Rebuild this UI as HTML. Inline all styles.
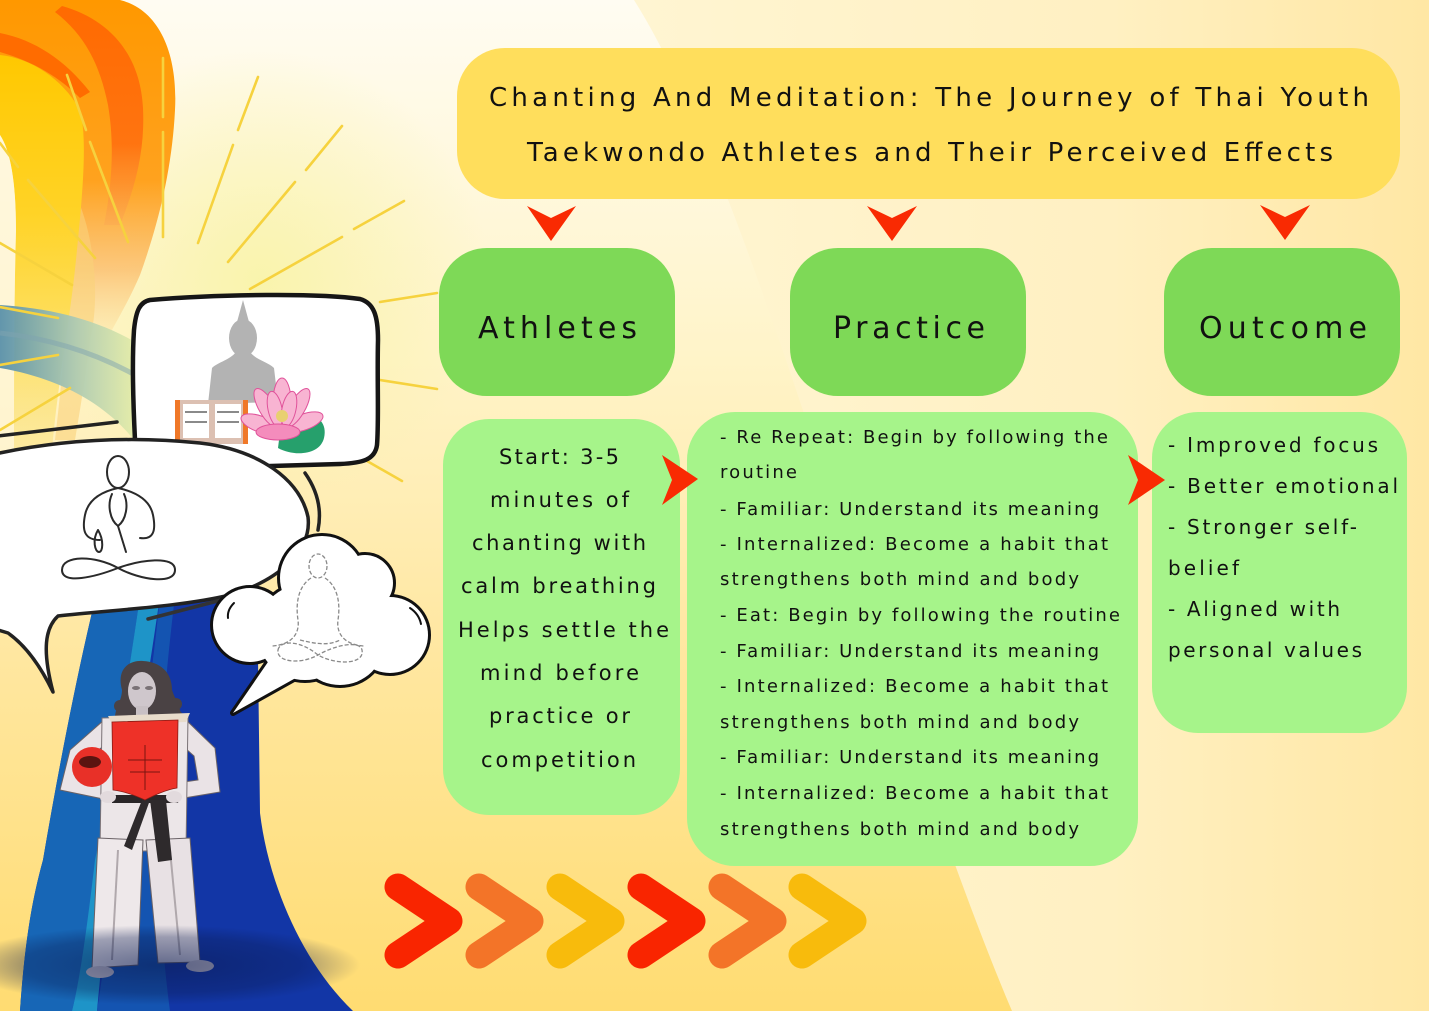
<!DOCTYPE html>
<html>
<head>
<meta charset="utf-8">
<style>
html,body{margin:0;padding:0;width:1429px;height:1011px;overflow:hidden;background:#FFF3C8;}
svg{display:block;}
.t{font-family:"DejaVu Sans","Liberation Sans",sans-serif;fill:#111;}
</style>
</head>
<body>
<svg width="1429" height="1011" viewBox="0 0 1429 1011" xmlns="http://www.w3.org/2000/svg">
<defs>
  <linearGradient id="bgv" x1="0" y1="0" x2="0" y2="1">
    <stop offset="0" stop-color="#FFFCF2"/>
    <stop offset="0.35" stop-color="#FFF4C9"/>
    <stop offset="0.62" stop-color="#FFE8A4"/>
    <stop offset="1" stop-color="#FFDC72"/>
  </linearGradient>
  <radialGradient id="sun" cx="260" cy="280" r="230" gradientUnits="userSpaceOnUse">
    <stop offset="0" stop-color="#F8F3A6" stop-opacity="0.85"/>
    <stop offset="1" stop-color="#F8F3A6" stop-opacity="0"/>
  </radialGradient>
  <linearGradient id="rightbg" x1="634" y1="0" x2="1429" y2="0" gradientUnits="userSpaceOnUse">
    <stop offset="0" stop-color="#FFF5D2"/>
    <stop offset="0.6" stop-color="#FFF0C2"/>
    <stop offset="1" stop-color="#FFE7A4"/>
  </linearGradient>
  <linearGradient id="flameO" x1="0" y1="0" x2="0" y2="360" gradientUnits="userSpaceOnUse">
    <stop offset="0" stop-color="#FF9800"/>
    <stop offset="0.5" stop-color="#FFA21E"/>
    <stop offset="0.75" stop-color="#FBC070" stop-opacity="0.85"/>
    <stop offset="1" stop-color="#FCDC96" stop-opacity="0"/>
  </linearGradient>
  <linearGradient id="flameD" x1="0" y1="0" x2="0" y2="240" gradientUnits="userSpaceOnUse">
    <stop offset="0" stop-color="#FF6A00"/>
    <stop offset="0.6" stop-color="#FF7410"/>
    <stop offset="1" stop-color="#F9A860" stop-opacity="0.2"/>
  </linearGradient>
  <linearGradient id="flameY" x1="0" y1="55" x2="0" y2="450" gradientUnits="userSpaceOnUse">
    <stop offset="0" stop-color="#FFC800"/>
    <stop offset="0.4" stop-color="#FFD326"/>
    <stop offset="0.75" stop-color="#FDE16A"/>
    <stop offset="1" stop-color="#FBE48A" stop-opacity="0.6"/>
  </linearGradient>
  <linearGradient id="teal" x1="0" y1="0" x2="140" y2="0" gradientUnits="userSpaceOnUse">
    <stop offset="0" stop-color="#5A91AA"/>
    <stop offset="0.55" stop-color="#AFCBB2"/>
    <stop offset="1" stop-color="#E8EFA8"/>
  </linearGradient>
  <radialGradient id="shadow" cx="160" cy="965" r="200" gradientUnits="userSpaceOnUse" gradientTransform="translate(0,965) scale(1,0.2) translate(0,-965)">
    <stop offset="0" stop-color="#0A1A50" stop-opacity="0.6"/>
    <stop offset="0.7" stop-color="#0A1A50" stop-opacity="0.35"/>
    <stop offset="1" stop-color="#0A1A50" stop-opacity="0"/>
  </radialGradient>
</defs>

<!-- Background -->
<rect x="0" y="0" width="1429" height="1011" fill="url(#bgv)"/>
<rect x="0" y="0" width="700" height="700" fill="url(#sun)"/>
<path d="M634,0 C760,200 880,700 1012,1011 L1429,1011 L1429,0 Z" fill="url(#rightbg)"/>

<!-- Flames -->
<path d="M0,0 L120,0 C160,10 178,55 175,110 C172,170 158,225 140,275 C125,310 110,330 100,355 L60,355 C62,260 55,170 25,120 C15,100 5,85 0,78 Z" fill="url(#flameO)"/>
<path d="M62,6 C105,18 140,50 143,108 C145,150 136,185 120,225 L104,225 C113,180 114,140 108,105 C100,65 85,35 55,12 Z" fill="url(#flameD)"/>
<path d="M0,33 C35,40 65,60 90,92 L80,98 C60,78 35,62 0,52 Z" fill="#FF6C00"/>
<path d="M78,200 C95,240 100,300 90,340 C85,380 80,410 75,440 L55,440 C62,380 70,300 66,240 Z" fill="#FAD27A" opacity="0.6"/>
<path d="M0,55 C30,58 62,78 80,110 C88,140 82,200 76,260 C70,320 58,380 52,450 L14,450 C14,380 14,300 16,230 C16,180 10,150 0,135 Z" fill="url(#flameY)"/>
<path d="M0,135 C10,150 16,180 16,230 C14,300 14,380 14,450 L0,450 Z" fill="#FFF7DA" opacity="0.6"/>

<!-- Teal swoosh -->
<path d="M0,305 C50,308 100,320 140,345 L140,448 C115,412 70,380 0,368 Z" fill="url(#teal)" opacity="0.95"/>
<path d="M0,333 C45,338 90,350 135,375" stroke="#7FA3B0" stroke-width="5" fill="none" opacity="0.5"/>

<!-- Rays -->
<g stroke="#F6D23E" stroke-width="2.6" stroke-linecap="round">
  <line x1="258" y1="77" x2="238" y2="130"/>
  <line x1="233" y1="145" x2="198" y2="243"/>
  <line x1="342" y1="126" x2="306" y2="170"/>
  <line x1="295" y1="182" x2="228" y2="262"/>
  <line x1="404" y1="201" x2="354" y2="229"/>
  <line x1="342" y1="237" x2="250" y2="289"/>
  <line x1="437" y1="293" x2="380" y2="302"/>
  <line x1="437" y1="389" x2="380" y2="380"/>
  <line x1="402" y1="481" x2="367" y2="461"/>
  <line x1="163" y1="58" x2="163" y2="117"/>
  <line x1="163" y1="132" x2="163" y2="237"/>
  <line x1="67" y1="75" x2="86" y2="130"/>
  <line x1="90" y1="142" x2="128" y2="242"/>
  <line x1="28" y1="180" x2="95" y2="258"/>
  <line x1="0" y1="243" x2="72" y2="285"/>
  <line x1="0" y1="143" x2="18" y2="167"/>
  <line x1="0" y1="307" x2="58" y2="318"/>
  <line x1="0" y1="365" x2="58" y2="355"/>
  <line x1="0" y1="430" x2="70" y2="388"/>
  <line x1="158" y1="598" x2="158" y2="620"/>
</g>

<!-- Blue band -->
<path d="M97,592 L257,580 L260,813 C268,880 300,960 353,1011 L20,1011 C25,940 32,900 43,860 C60,760 80,660 97,592 Z" fill="#1236A6"/>
<path d="M97,592 L140,596 C125,700 108,820 97,860 C90,920 80,980 72,1011 L20,1011 C25,940 32,900 43,860 C60,760 80,660 97,592 Z" fill="#1766B6"/>
<path d="M140,596 L160,596 C145,700 125,820 115,860 C105,920 100,980 97,1011 L72,1011 C80,980 88,920 95,860 C108,800 125,700 140,596 Z" fill="#1E94C8"/>
<path d="M160,596 L175,596 C160,720 150,860 170,1011 L97,1011 C105,960 112,900 120,860 C135,780 150,700 160,596 Z" fill="#1558B2" opacity="0.9"/>

<!-- Frame with Buddha -->
<path d="M150,300 C220,294 320,293 360,299 C374,303 378,316 378,340 C377,380 379,420 377,445 C375,460 362,463 340,464 L200,468 C150,470 137,460 135,440 C133,400 132,360 134,330 C136,310 140,302 150,300 Z" fill="#fff" stroke="#161616" stroke-width="4.5"/>
<g fill="#B3B3B3">
  <path d="M243,300 L237,322 L249,322 Z"/>
  <ellipse cx="243" cy="338" rx="14" ry="19"/>
  <path d="M236,352 L250,352 C256,360 268,362 274,368 L278,402 L208,404 L212,368 C218,362 230,360 236,352 Z"/>
</g>
<rect x="175" y="400" width="73" height="44" fill="#DCC0B2"/>
<rect x="175" y="400" width="5" height="44" fill="#F07828"/>
<rect x="243" y="400" width="5" height="44" fill="#F07828"/>
<rect x="183" y="404" width="26" height="34" fill="#fff"/>
<rect x="215" y="404" width="26" height="34" fill="#fff"/>
<g stroke="#444" stroke-width="1.2">
  <line x1="185" y1="412" x2="207" y2="412"/>
  <line x1="217" y1="412" x2="239" y2="412"/>
  <line x1="185" y1="422" x2="207" y2="422"/>
  <line x1="217" y1="422" x2="239" y2="422"/>
</g>
<path d="M280,432 C296,405 330,412 324,438 C320,455 294,457 278,448 Z" fill="#26A06C"/>
<g transform="translate(282,414)" stroke="#E0529A" stroke-width="1" fill="#F8B4D2">
  <ellipse cx="-22" cy="10" rx="20" ry="8" transform="rotate(20 -22 10)"/>
  <ellipse cx="22" cy="8" rx="20" ry="8" transform="rotate(-20 22 8)"/>
  <ellipse cx="-15" cy="-6" rx="8" ry="22" transform="rotate(-30 -15 -6)"/>
  <ellipse cx="15" cy="-6" rx="8" ry="22" transform="rotate(30 15 -6)"/>
  <ellipse cx="0" cy="-12" rx="9" ry="24"/>
  <ellipse cx="-7" cy="-5" rx="7" ry="18" transform="rotate(-12 -7 -5)"/>
  <ellipse cx="7" cy="-5" rx="7" ry="18" transform="rotate(12 7 -5)"/>
  <ellipse cx="-4" cy="18" rx="22" ry="8" fill="#F48CBC"/>
  <circle cx="0" cy="2" r="6" fill="#E8D070" stroke="none"/>
</g>

<!-- Speech bubble 1 -->
<line x1="-2" y1="436" x2="117" y2="422" stroke="#222" stroke-width="3.5" stroke-linecap="round"/>
<path d="M-5,454 C60,440 130,436 200,443 C260,450 300,480 308,517 C312,550 280,580 230,595 C180,607 110,610 58,616 C45,628 42,650 53,692 C40,665 25,645 8,633 L-5,629 Z" fill="#fff" stroke="#222" stroke-width="3.5" stroke-linejoin="round"/>
<path d="M305,473 Q324,500 318,530" stroke="#222" stroke-width="3.5" fill="none" stroke-linecap="round"/>
<line x1="148" y1="619" x2="233" y2="597" stroke="#333" stroke-width="3.5" stroke-linecap="round"/>
<g stroke="#2a2a2a" stroke-width="2" fill="none" stroke-linecap="round">
  <ellipse cx="118" cy="472" rx="11" ry="16"/>
  <path d="M118,488 C100,492 88,500 85,515 C82,530 84,540 100,540"/>
  <path d="M118,488 C136,492 150,500 153,515 C156,530 154,540 140,538"/>
  <path d="M112,494 C107,505 110,520 118,526 C126,520 129,505 124,494"/>
  <path d="M118,526 L126,552"/>
  <path d="M98,530 C92,540 95,552 99,552 C103,552 104,540 98,530"/>
  <path d="M62,570 C62,555 95,555 118,568 C140,580 175,585 175,570 C175,555 140,560 118,568 C95,577 62,585 62,570 Z"/>
</g>

<!-- Cloud bubble -->
<g fill="#111" stroke="#111" stroke-width="6" stroke-linejoin="round">
  <circle cx="250" cy="625" r="37"/>
  <circle cx="322" cy="578" r="42"/>
  <circle cx="365" cy="583" r="28"/>
  <circle cx="390" cy="635" r="38"/>
  <circle cx="340" cy="640" r="45"/>
  <circle cx="305" cy="632" r="48"/>
  <polygon points="268,662 233,713 310,670"/>
</g>
<g fill="#fff">
  <circle cx="250" cy="625" r="37"/>
  <circle cx="322" cy="578" r="42"/>
  <circle cx="365" cy="583" r="28"/>
  <circle cx="390" cy="635" r="38"/>
  <circle cx="340" cy="640" r="45"/>
  <circle cx="305" cy="632" r="48"/>
  <polygon points="268,662 233,713 310,670"/>
</g>
<g stroke="#111" stroke-width="2" fill="none" stroke-linecap="round">
  <path d="M234,603 Q227,610 228,618"/>
  <path d="M410,608 Q419,614 421,624"/>
</g>
<g stroke="#8a8a8a" stroke-width="1.3" fill="none" stroke-dasharray="4 2">
  <ellipse cx="318" cy="566" rx="9" ry="12"/>
  <path d="M311,578 C300,585 295,600 298,620 C300,635 290,645 272,646"/>
  <path d="M325,578 C336,585 341,600 338,620 C336,635 346,645 364,646"/>
  <path d="M300,640 C320,645 330,645 340,640"/>
  <path d="M278,650 C280,640 300,640 318,655 C335,665 365,665 362,650 C360,640 335,645 318,655 C300,665 276,662 278,650"/>
</g>

<!-- Character -->
<g>
  <path d="M122,690 C116,668 130,660 143,661 C160,662 172,672 172,690 C176,702 184,712 180,722 L116,722 C112,712 122,702 122,690 Z" fill="#4A4244"/>
  <g fill="#4A4244"><circle cx="120" cy="706" r="6"/><circle cx="176" cy="704" r="6"/><circle cx="122" cy="716" r="5"/><circle cx="178" cy="716" r="5"/></g>
  <ellipse cx="142" cy="691" rx="14" ry="19" fill="#CFC7CC"/>
  <ellipse cx="136" cy="688" rx="4" ry="2" fill="#7a7276"/>
  <ellipse cx="149" cy="688" rx="4" ry="2" fill="#7a7276"/>
  <rect x="136" y="706" width="12" height="14" fill="#C8C0C4"/>
  <!-- arms -->
  <path d="M104,720 L70,750 L60,790 L108,800 L110,782 L82,780 L90,756 L112,740 Z" fill="#EAE3E6" stroke="#6a6266" stroke-width="1"/>
  <path d="M184,718 L215,748 L220,792 L172,800 L170,784 L198,780 L194,756 L176,740 Z" fill="#EAE3E6" stroke="#6a6266" stroke-width="1"/>
  <!-- jacket lower -->
  <path d="M102,718 L188,716 L186,850 L100,852 Z" fill="#ECE6E8" stroke="#7a7276" stroke-width="1"/>
  <path d="M108,716 L190,713 L186,722 L112,724 Z" fill="#E8DCCB"/>
  <!-- pants -->
  <path d="M98,838 L143,840 L138,965 L92,968 Z" fill="#EEE8EA" stroke="#6a6266" stroke-width="1"/>
  <path d="M146,840 L190,838 L200,962 L158,963 Z" fill="#E8E1E4" stroke="#6a6266" stroke-width="1"/>
  <line x1="118" y1="850" x2="112" y2="960" stroke="#b0a8ac" stroke-width="2"/>
  <line x1="170" y1="850" x2="180" y2="955" stroke="#b0a8ac" stroke-width="2"/>
  <ellipse cx="100" cy="972" rx="14" ry="6" fill="#CFC7CC"/>
  <ellipse cx="200" cy="966" rx="14" ry="6" fill="#CFC7CC"/>
  <!-- belt -->
  <path d="M112,795 L180,795 L178,803 L112,803 Z" fill="#2A2628"/>
  <path d="M150,800 L166,800 L172,860 L158,862 Z" fill="#2E2A2C"/>
  <path d="M142,800 L150,800 L132,850 L124,846 Z" fill="#2E2A2C"/>
  <!-- chest protector -->
  <path d="M112,722 L178,720 L177,788 C165,790 155,795 145,800 C132,794 122,791 113,790 Z" fill="#EE3128" stroke="#8a1a14" stroke-width="0.8"/>
  <g stroke="#7a1510" stroke-width="1"><line x1="145" y1="745" x2="145" y2="790"/><line x1="128" y1="760" x2="162" y2="760"/><line x1="130" y1="772" x2="160" y2="772"/></g>
  <!-- helmet -->
  <ellipse cx="92" cy="767" rx="20" ry="20" fill="#E83028"/>
  <ellipse cx="90" cy="762" rx="11" ry="6" fill="#5a1410"/>
  <!-- hands -->
  <ellipse cx="108" cy="797" rx="8" ry="6" fill="#E2DADD"/>
  <ellipse cx="174" cy="797" rx="8" ry="6" fill="#E2DADD"/>
</g>

<!-- Ground shadow -->
<rect x="-40" y="925" width="400" height="86" fill="url(#shadow)"/>

<!-- Title box -->
<rect x="457" y="48" width="943" height="151" rx="48" ry="48" fill="#FFDE5C"/>
<text class="t" x="489" y="106" font-size="26" textLength="880" lengthAdjust="spacing">Chanting And Meditation: The Journey of Thai Youth</text>
<text class="t" x="527" y="161" font-size="26" textLength="806" lengthAdjust="spacing">Taekwondo Athletes and Their Perceived Effects</text>

<!-- Down arrows -->
<g fill="#F92A02">
  <polygon points="527,206 551,218 576,206 551,241"/>
  <polygon points="867,206 892,218 917,206 892,241"/>
  <polygon points="1260,205 1285,217 1310,205 1285,240"/>
</g>

<!-- Header boxes -->
<g fill="#7ED957">
  <rect x="439" y="248" width="236" height="148" rx="48" ry="48"/>
  <rect x="790" y="248" width="236" height="148" rx="48" ry="48"/>
  <rect x="1164" y="248" width="236" height="148" rx="48" ry="48"/>
</g>
<text class="t" x="478" y="338" font-size="30" textLength="159" lengthAdjust="spacing">Athletes</text>
<text class="t" x="833" y="338" font-size="30" textLength="152" lengthAdjust="spacing">Practice</text>
<text class="t" x="1199" y="338" font-size="30" textLength="168" lengthAdjust="spacing">Outcome</text>

<!-- Body boxes -->
<g fill="#A6F48A">
  <rect x="443" y="419" width="237" height="396" rx="46" ry="46"/>
  <rect x="687" y="412" width="451" height="454" rx="48" ry="48"/>
  <rect x="1152" y="412" width="255" height="321" rx="46" ry="46"/>
</g>

<!-- Athletes text -->
<g font-size="21">
  <text class="t" font-size="21" x="499" y="464" textLength="120" lengthAdjust="spacing">Start: 3-5</text>
  <text class="t" font-size="21" x="490" y="507" textLength="139" lengthAdjust="spacing">minutes of</text>
  <text class="t" font-size="21" x="472" y="550" textLength="174" lengthAdjust="spacing">chanting with</text>
  <text class="t" font-size="21" x="461" y="593" textLength="195" lengthAdjust="spacing">calm breathing</text>
  <text class="t" font-size="21" x="458" y="637" textLength="211" lengthAdjust="spacing">Helps settle the</text>
  <text class="t" font-size="21" x="480" y="680" textLength="159" lengthAdjust="spacing">mind before</text>
  <text class="t" font-size="21" x="489" y="723" textLength="141" lengthAdjust="spacing">practice or</text>
  <text class="t" font-size="21" x="481" y="767" textLength="155" lengthAdjust="spacing">competition</text>
</g>

<!-- Practice text -->
<g font-size="18">
  <text class="t" font-size="18" x="720" y="443" textLength="388" lengthAdjust="spacing">- Re Repeat: Begin by following the</text>
  <text class="t" font-size="18" x="720" y="478" textLength="77" lengthAdjust="spacing">routine</text>
  <text class="t" font-size="18" x="720" y="515" textLength="379" lengthAdjust="spacing">- Familiar: Understand its meaning</text>
  <text class="t" font-size="18" x="720" y="550" textLength="388" lengthAdjust="spacing">- Internalized: Become a habit that</text>
  <text class="t" font-size="18" x="720" y="585" textLength="359" lengthAdjust="spacing">strengthens both mind and body</text>
  <text class="t" font-size="18" x="720" y="621" textLength="400" lengthAdjust="spacing">- Eat: Begin by following the routine</text>
  <text class="t" font-size="18" x="720" y="657" textLength="379" lengthAdjust="spacing">- Familiar: Understand its meaning</text>
  <text class="t" font-size="18" x="720" y="692" textLength="388" lengthAdjust="spacing">- Internalized: Become a habit that</text>
  <text class="t" font-size="18" x="720" y="728" textLength="359" lengthAdjust="spacing">strengthens both mind and body</text>
  <text class="t" font-size="18" x="720" y="763" textLength="379" lengthAdjust="spacing">- Familiar: Understand its meaning</text>
  <text class="t" font-size="18" x="720" y="799" textLength="388" lengthAdjust="spacing">- Internalized: Become a habit that</text>
  <text class="t" font-size="18" x="720" y="835" textLength="359" lengthAdjust="spacing">strengthens both mind and body</text>
</g>

<!-- Outcome text -->
<g>
  <text class="t" font-size="20" x="1168" y="452" textLength="210" lengthAdjust="spacing">- Improved focus</text>
  <text class="t" font-size="20" x="1168" y="493" textLength="230" lengthAdjust="spacing">- Better emotional</text>
  <text class="t" font-size="20" x="1168" y="534" textLength="189" lengthAdjust="spacing">- Stronger self-</text>
  <text class="t" font-size="20" x="1168" y="575" textLength="71" lengthAdjust="spacing">belief</text>
  <text class="t" font-size="20" x="1168" y="616" textLength="172" lengthAdjust="spacing">- Aligned with</text>
  <text class="t" font-size="20" x="1168" y="657" textLength="194" lengthAdjust="spacing">personal values</text>
</g>

<!-- Right arrows -->
<g fill="#F92A02">
  <polygon points="662,455 698,479 662,505 672,480"/>
  <polygon points="1128,455 1165,480 1128,505 1138,480"/>
</g>

<!-- Chevrons -->
<g fill="none" stroke-width="27" stroke-linecap="round" stroke-linejoin="round">
  <path d="M398,887 L449,921 L398,955" stroke="#F92500"/>
  <path d="M479,887 L530,921 L479,955" stroke="#F37428"/>
  <path d="M560,887 L611,921 L560,955" stroke="#F8BB0C"/>
  <path d="M641,887 L692,921 L641,955" stroke="#F92500"/>
  <path d="M722,887 L773,921 L722,955" stroke="#F37428"/>
  <path d="M802,887 L853,921 L802,955" stroke="#F8BB0C"/>
</g>
</svg>
</body>
</html>
